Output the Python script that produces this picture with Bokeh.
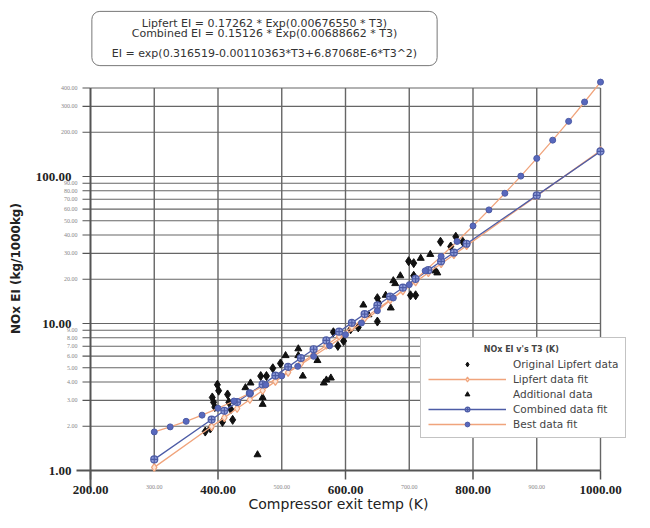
import math
from bokeh.plotting import figure
from bokeh.models import (Range1d, Label, LabelSet, ColumnDataSource, Legend, LegendItem)
from bokeh.embed import file_html
from bokeh.resources import INLINE

# ---------------- data ----------------
orig_T = [380, 388, 391, 393, 395, 399, 401, 415, 417, 420, 423, 407,
          467, 476, 486, 581, 588, 597, 620, 650, 652, 650,
          699, 707, 702, 710, 707, 749, 773, 784, 765, 498, 608]
orig_EI = [1.84, 1.93, 3.14, 2.91, 2.70, 3.83, 3.49, 3.29, 2.91, 2.61, 2.21, 2.14,
           4.39, 4.39, 4.96, 8.72, 7.04, 7.60, 9.41, 14.87, 13.77, 10.31,
           26.54, 25.74, 15.56, 15.56, 21.11, 36.0, 38.9, 36.0, 33.4, 5.35, 9.13]

add_T = [462, 470, 470, 526, 526, 533, 556, 566, 570, 577, 628, 671, 675, 678,
         744, 741, 443, 451, 506, 636, 663, 686, 718, 733]
add_EI = [1.28, 3.14, 2.82, 6.73, 6.05, 4.39, 5.60, 3.94, 4.13, 4.26, 13.36, 12.76, 19.56, 18.69,
          22.10, 22.79, 3.66, 3.94, 6.05, 11.47, 15.56, 21.11, 27.78, 29.53]

fit_T = [300, 390, 410, 430, 450, 470, 490, 510, 530, 550, 570, 590, 610, 630,
         650, 670, 690, 710, 730, 750, 770, 790, 900, 1000]
combined_fit = [1.19, 2.22, 2.55, 2.92, 3.35, 3.85, 4.42, 5.07, 5.82, 6.68, 7.67, 8.80, 10.10, 11.59,
                13.30, 15.26, 17.52, 20.11, 23.07, 26.48, 30.39, 34.88, 74.4, 148.1]
lipfert_fit = [1.05, 1.99, 2.29, 2.64, 3.04, 3.50, 4.04, 4.65, 5.36, 6.18, 7.12, 8.20, 9.45, 10.89,
               12.55, 14.46, 16.66, 19.20, 22.13, 25.50, 29.38, 33.85, 73.8, 150.0]

best_T = [300, 325, 350, 375, 400, 425, 450, 475, 500, 525, 550, 575, 600, 625, 650,
          675, 700, 725, 750, 775, 800, 825, 850, 875, 900, 925, 950, 975, 1000]
best_fit = [1.83, 1.98, 2.16, 2.38, 2.65, 2.97, 3.36, 3.83, 4.40, 5.11, 5.98, 7.05, 8.40, 10.08, 12.21,
            14.91, 18.37, 22.82, 28.61, 36.16, 46.10, 59.27, 76.89, 100.6, 132.8, 176.7, 237.2, 321.2, 438.6]

x_major_ticks = [200, 400, 600, 800, 1000]
x_major_labels = ["200.00", "400.00", "600.00", "800.00", "1000.00"]
x_minor_ticks = [300, 500, 700, 900]
x_minor_labels = ["300.00", "500.00", "700.00", "900.00"]

y_major_ticks = [1, 10, 100]
y_major_labels = ["1.00", "10.00", "100.00"]
y_minor_ticks = [2, 3, 4, 5, 6, 7, 8, 9, 20, 30, 40, 50, 60, 70, 80, 90, 200, 300, 400]
y_minor_labels = ["2.00", "3.00", "4.00", "5.00", "6.00", "7.00", "8.00", "9.00",
                  "20.00", "30.00", "40.00", "50.00", "60.00", "70.00", "80.00", "90.00",
                  "200.00", "300.00", "400.00"]

x_title = "Compressor exit temp (K)"
y_title = "NOx EI (kg/1000kg)"
eq_text = ("Lipfert EI = 0.17262 * Exp(0.00676550 * T3)\n"
           "Combined EI = 0.15126 * Exp(0.00688662 * T3)\n\n"
           "EI = exp(0.316519-0.00110363*T3+6.87068E-6*T3^2)")
legend_title = "NOx EI v's T3 (K)"

# ---------------- layout / styling ----------------
W, H = 634, 512
X0_PX, PX_PER_K = 90, 0.6375      # pixel of T=200 and pixels per kelvin
Y0_PX, PX_PER_DEC = 470, 147      # pixel of EI=1 and pixels per decade
X_AX, Y_AX = 200, 1
X_GRID_END, Y_GRID_END = 1000, 400

def xv(px):
    return X_AX + (px - X0_PX) / PX_PER_K

def yv(py):
    return 10 ** ((Y0_PX - py) / PX_PER_DEC)

ORANGE = "#f0a47c"
BLUE = "#4d5ca6"
BLUE_M = "#5868bd"
GRID = "#666666"
AXIS = "#555555"
FONT = "DejaVu Sans"
TXT = "#222222"

p = figure(width=W, height=H, x_range=Range1d(xv(0), xv(W)), y_range=Range1d(yv(H), yv(0)),
           y_axis_type="log", x_axis_location=None, y_axis_location=None,
           output_backend="svg", toolbar_location=None, min_border=0)
p.outline_line_color = None
p.xgrid.visible = False
p.ygrid.visible = False
p.background_fill_color = "white"
p.border_fill_color = "white"

# grid lines
vx = x_minor_ticks + x_major_ticks[1:]
p.segment(x0=vx, y0=[Y_AX] * len(vx), x1=vx, y1=[Y_GRID_END] * len(vx),
          line_color=GRID, line_width=1.4)
hy = y_minor_ticks + y_major_ticks[1:]
p.segment(x0=[X_AX] * len(hy), y0=hy, x1=[X_GRID_END] * len(hy), y1=hy,
          line_color=GRID, line_width=1.2)
# axis lines
p.segment(x0=[xv(X0_PX - 14)], y0=[Y_AX], x1=[X_GRID_END], y1=[Y_AX], line_color=AXIS, line_width=2)
p.segment(x0=[X_AX], y0=[yv(Y0_PX + 18)], x1=[X_AX], y1=[Y_GRID_END], line_color=AXIS, line_width=2)
# tick marks
p.segment(x0=x_major_ticks, y0=[Y_AX] * 5, x1=x_major_ticks, y1=[yv(Y0_PX + 9)] * 5,
          line_color=AXIS, line_width=1.5)
all_y = y_major_ticks + y_minor_ticks
p.segment(x0=[X_AX] * len(all_y), y0=all_y, x1=[xv(X0_PX - 8)] * len(all_y), y1=all_y,
          line_color=AXIS, line_width=1.2)

# tick labels
def labels(xs, ys, texts, size, bold, color, align, xo=0, yo=0):
    src = ColumnDataSource(dict(x=xs, y=ys, t=texts))
    p.add_layout(LabelSet(x="x", y="y", text="t", source=src, x_offset=xo, y_offset=yo,
                          text_align=align, text_baseline="middle", text_font=FONT,
                          text_font_size=size, text_font_style="bold" if bold else "normal",
                          text_color=color))

labels([X_AX] * 3, y_major_ticks, y_major_labels, "13px", True, TXT, "right", xo=-19)
labels([X_AX] * len(y_minor_ticks), y_minor_ticks, y_minor_labels, "6px", False, "#888888", "right", xo=-13)
labels(x_major_ticks, [Y_AX] * 5, x_major_labels, "13px", True, TXT, "center", yo=-19)
labels(x_minor_ticks, [Y_AX] * 4, x_minor_labels, "6px", False, "#888888", "center", yo=-16)

# axis titles
p.add_layout(Label(x=xv(338), y=Y_AX, y_offset=-33, text=x_title,
                   text_align="center", text_baseline="middle",
                   text_font=FONT, text_font_size="14px", text_color=TXT))
p.add_layout(Label(x=xv(15), y=yv(268), text=y_title, angle=math.pi / 2,
                   text_align="center", text_baseline="middle",
                   text_font=FONT, text_font_size="12px", text_font_style="bold",
                   text_color=TXT))

# equation box
p.add_layout(Label(x=xv(264), y=yv(38), text=eq_text, text_align="center", text_baseline="middle",
                   text_font=FONT, text_font_size="11px", text_line_height=0.75,
                   text_color="#333333",
                   background_fill_color="white", border_line_color="#777777",
                   border_line_width=1, padding=(20, 20, 6, 6), border_radius=8))

# ---------------- data marks ----------------
r_orig = p.scatter(orig_T, orig_EI, marker="diamond", size=9, fill_color="#111111",
                   line_color="#111111")
r_add = p.scatter(add_T, add_EI, marker="triangle", size=7, fill_color="#111111",
                  line_color="#111111")

r_lip_l = p.line(fit_T, lipfert_fit, line_color=ORANGE, line_width=1.3)
r_comb_l = p.line(fit_T, combined_fit, line_color=BLUE, line_width=1.3)
r_best_l = p.line(best_T, best_fit, line_color=ORANGE, line_width=1.3)

r_lip_m = p.scatter(fit_T, lipfert_fit, marker="diamond", size=8, fill_color="#fde6d8",
                    line_color=ORANGE, line_width=1.2)
r_comb_m = p.scatter(fit_T, combined_fit, marker="circle_cross", size=7, fill_color="#8d9ad8",
                     line_color=BLUE, line_width=1.2)
r_best_m = p.scatter(best_T, best_fit, marker="circle", size=6, fill_color=BLUE_M,
                     line_color=BLUE, line_width=1)

legend = Legend(items=[
    LegendItem(label="Original Lipfert data", renderers=[r_orig]),
    LegendItem(label="Lipfert data fit", renderers=[r_lip_l, r_lip_m]),
    LegendItem(label="Additional data", renderers=[r_add]),
    LegendItem(label="Combined data fit", renderers=[r_comb_l, r_comb_m]),
    LegendItem(label="Best data fit", renderers=[r_best_l, r_best_m]),
], location=(420, H - 438))
legend.title = "\u00a0" * 20 + legend_title
legend.title_text_font = FONT
legend.title_text_font_size = "8px"
legend.title_text_font_style = "bold"
legend.title_standoff = 4
legend.label_text_font = FONT
legend.label_text_font_size = "10.5px"
legend.label_text_color = "#444444"
legend.glyph_width = 78
legend.glyph_height = 12
legend.label_height = 12
legend.spacing = 3
legend.padding = 7
legend.margin = 0
legend.label_standoff = 7
legend.border_line_color = "#888888"
legend.border_line_width = 1
legend.background_fill_color = "white"
legend.background_fill_alpha = 1
p.add_layout(legend)

open("out.html", "w").write(file_html(p, INLINE))
